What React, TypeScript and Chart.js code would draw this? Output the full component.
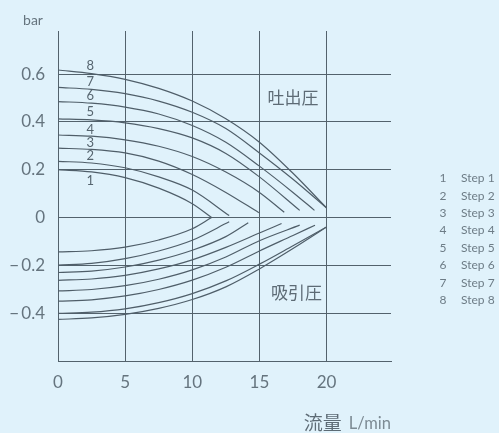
import React, { useEffect, useRef } from "react";
import { Chart, registerables } from "chart.js";

Chart.register(...registerables);

// ---- data (x = flow L/min, y = pressure bar) ----
const discharge1 = [[0, 0.2], [2.5, 0.191], [5, 0.167], [7.5, 0.123], [10, 0.058], [11.44, 0]];
const discharge2 = [[0, 0.235], [2.5, 0.228], [5, 0.208], [7.5, 0.17], [10, 0.115], [12.75, 0.008]];
const discharge3 = [[0, 0.29], [2.5, 0.285], [5, 0.27], [7.5, 0.236], [10, 0.18], [12.5, 0.105], [14.96, 0.02]];
const discharge4 = [[0, 0.345], [2.5, 0.34], [5, 0.325], [7.5, 0.298], [10, 0.255], [12.5, 0.19], [15, 0.105], [16.85, 0.022]];
const discharge5 = [[0, 0.4125], [2.5, 0.408], [5, 0.396], [7.5, 0.372], [10, 0.333], [12.5, 0.268], [15, 0.17], [18, 0.03]];
const discharge6 = [[0, 0.485], [2.5, 0.478], [5, 0.462], [7.5, 0.433], [10, 0.385], [12.5, 0.315], [15, 0.215], [17.5, 0.105], [19.1, 0.03]];
const discharge7 = [[0, 0.544], [2.5, 0.536], [5, 0.518], [7.5, 0.487], [10, 0.44], [12.5, 0.372], [15, 0.27], [17.5, 0.16], [20, 0.04]];
const discharge8 = [[0, 0.617], [2.5, 0.602], [5, 0.578], [7.5, 0.54], [10, 0.487], [12.5, 0.413], [15, 0.315], [17.5, 0.185], [20, 0.04]];

const suction1 = [[0, -0.144], [2.5, -0.139], [5, -0.124], [7.5, -0.094], [10, -0.047], [11.44, 0]];
const suction2 = [[0, -0.199], [2.5, -0.192], [5, -0.172], [7.5, -0.14], [10, -0.095], [12.75, -0.018]];
const suction3 = [[0, -0.23], [2.5, -0.224], [5, -0.207], [7.5, -0.178], [10, -0.137], [12.5, -0.08], [14.17, -0.022]];
const suction4 = [[0, -0.2625], [2.5, -0.257], [5, -0.242], [7.5, -0.215], [10, -0.177], [12.5, -0.125], [15, -0.065], [16.65, -0.025]];
const suction5 = [[0, -0.307], [2.5, -0.301], [5, -0.285], [7.5, -0.258], [10, -0.219], [12.5, -0.165], [15, -0.097], [18, -0.032]];
const suction6 = [[0, -0.35], [2.5, -0.344], [5, -0.328], [7.5, -0.301], [10, -0.262], [12.5, -0.208], [15, -0.14], [17.5, -0.075], [19.14, -0.032]];
const suction7 = [[0, -0.401], [2.5, -0.396], [5, -0.382], [7.5, -0.356], [10, -0.318], [12.5, -0.265], [15, -0.195], [17.5, -0.118], [20, -0.04]];
const suction8 = [[0, -0.426], [2.5, -0.42], [5, -0.405], [7.5, -0.38], [10, -0.343], [12.5, -0.29], [15, -0.215], [17.5, -0.13], [20, -0.04]];

const dischargeCurves = [discharge1, discharge2, discharge3, discharge4, discharge5, discharge6, discharge7, discharge8];
const suctionCurves = [suction1, suction2, suction3, suction4, suction5, suction6, suction7, suction8];

const stepNumbers = ["1", "2", "3", "4", "5", "6", "7", "8"];
const stepNames = ["Step 1", "Step 2", "Step 3", "Step 4", "Step 5", "Step 6", "Step 7", "Step 8"];
const curveLabelX = 2.4;
const curveLabelY = [0.1525, 0.257, 0.3125, 0.368, 0.444, 0.507, 0.569, 0.635];

const xTicks = [0, 5, 10, 15, 20];
const yTicks = [0.6, 0.4, 0.2, 0, -0.2, -0.4];
const xMin = 0;
const xMax = 24.8;
const yMin = -0.6;
const yMax = 0.78;

const dischargeLabel = { text: "吐出圧", x: 17.5, y: 0.5 };
const suctionLabel = { text: "吸引圧", x: 17.76, y: -0.315 };
const yUnit = "bar";
const xTitle = "流量";
const xUnit = "L/min";

const BG = "#e0f2fb";
const LINE = "#4f5e69";
const GRID = "#53626c";
const TEXT = "#65747e";
const LATIN = "Lato, 'Noto Sans', sans-serif";
const CJK = "'Noto Sans CJK JP', sans-serif";

const textPlugin = {
  id: "textPlugin",
  afterDraw(chart: any) {
    const ctx = chart.ctx;
    const xs = chart.scales.x;
    const ys = chart.scales.y;
    ctx.save();
    // curve numbers
    ctx.fillStyle = "#56656f";
    ctx.font = `13px ${LATIN}`;
    ctx.textAlign = "center";
    ctx.textBaseline = "middle";
    curveLabelY.forEach((v, i) => {
      ctx.fillText(stepNumbers[i], xs.getPixelForValue(curveLabelX), ys.getPixelForValue(v));
    });
    // region labels
    ctx.fillStyle = "#5d6b75";
    ctx.font = `17px ${CJK}`;
    ctx.fillText(dischargeLabel.text, xs.getPixelForValue(dischargeLabel.x), ys.getPixelForValue(dischargeLabel.y));
    ctx.fillText(suctionLabel.text, xs.getPixelForValue(suctionLabel.x), ys.getPixelForValue(suctionLabel.y));
    // y unit
    ctx.fillStyle = TEXT;
    ctx.font = `14px ${LATIN}`;
    ctx.textAlign = "center";
    ctx.fillText(yUnit, 33, 20);
    // x title
    ctx.textAlign = "right";
    ctx.font = `16.5px ${LATIN}`;
    ctx.fillStyle = "#7d8b94";
    const unitW = ctx.measureText(xUnit).width;
    ctx.fillText(xUnit, chart.chartArea.right, 424);
    ctx.font = `19px ${CJK}`;
    ctx.fillStyle = "#5d6b75";
    ctx.fillText(xTitle, chart.chartArea.right - unitW - 7, 423);
    // legend
    ctx.font = `12px ${LATIN}`;
    ctx.fillStyle = "#6d7c86";
    stepNames.forEach((name, i) => {
      const y = 178.5 + i * 17.36;
      ctx.textAlign = "center";
      ctx.fillText(stepNumbers[i], 443, y);
      ctx.textAlign = "left";
      ctx.fillText(name, 461, y);
    });
    ctx.restore();
  },
};

export default function App() {
  const ref = useRef<HTMLCanvasElement>(null);
  useEffect(() => {
    if (!ref.current) return;
    const mk = (pts: number[][], label: string) => ({
      label,
      data: pts.map(([x, y]) => ({ x, y })),
      borderColor: LINE,
      borderWidth: 1.2,
      pointRadius: 0,
      fill: false,
      cubicInterpolationMode: "monotone" as const,
    });
    const datasets = [
      ...dischargeCurves.map((c, i) => mk(c, `吐出 ${stepNames[i]}`)),
      ...suctionCurves.map((c, i) => mk(c, `吸引 ${stepNames[i]}`)),
    ];
    const chart = new Chart(ref.current, {
      type: "line",
      data: { datasets },
      options: {
        animation: false,
        responsive: false,
        devicePixelRatio: 1,
        layout: { padding: { top: 31, right: 108, bottom: 0, left: 0 } },
        plugins: { legend: { display: false }, tooltip: { enabled: false } },
        scales: {
          x: {
            type: "linear",
            min: xMin,
            max: xMax,
            afterFit: (s: any) => { s.height = 72; },
            afterBuildTicks: (s: any) => { s.ticks = xTicks.map((v) => ({ value: v })); },
            ticks: { color: TEXT, font: { family: LATIN, size: 17 }, padding: 11, maxRotation: 0 },
            grid: { color: GRID, lineWidth: 1, drawTicks: false },
            border: { color: GRID, width: 1 },
          },
          y: {
            type: "linear",
            min: yMin,
            max: yMax,
            afterFit: (s: any) => { s.width = 58; },
            afterBuildTicks: (s: any) => { s.ticks = [yMin, ...yTicks].map((v) => ({ value: v })); },
            ticks: {
              color: TEXT,
              font: { family: LATIN, size: 17 },
              padding: 13,
              callback: (v: any) => {
                const n = Number(v);
                if (Math.abs(n - yMin) < 1e-6) return "";
                if (Math.abs(n) < 1e-9) return "0";
                return (n < 0 ? "\u2212\u2009" : "") + Math.abs(n).toFixed(1);
              },
            },
            grid: { color: GRID, lineWidth: 1, drawTicks: false },
            border: { color: GRID, width: 1 },
          },
        },
      },
      plugins: [textPlugin],
    } as any);
    return () => chart.destroy();
  }, []);
  return (
    <div style={{ position: "fixed", left: 0, top: 0, width: "100vw", height: "100vh", background: BG }}>
      <canvas ref={ref} width={499} height={433} style={{ display: "block" }} />
    </div>
  );
}
